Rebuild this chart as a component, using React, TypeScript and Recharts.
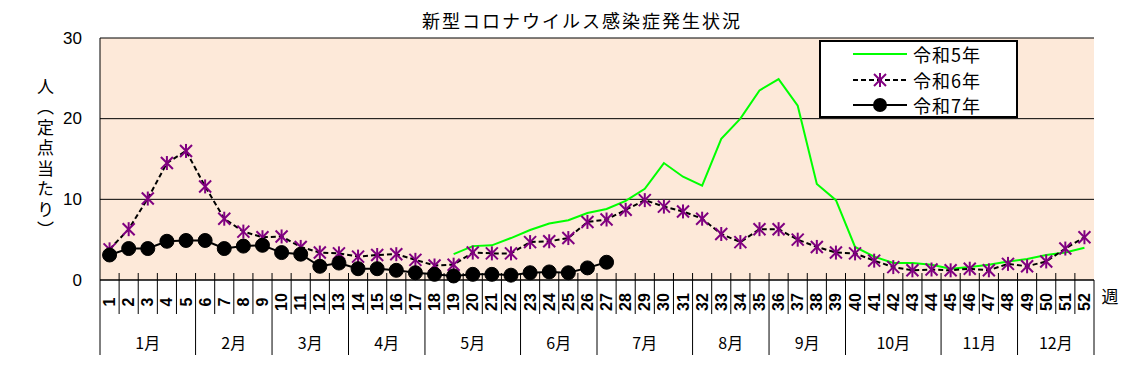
import { LineChart, Line, XAxis, YAxis, CartesianGrid, Customized } from 'recharts';

const weeks = [
  1, 2, 3, 4, 5, 6, 7, 8, 9, 10, 11, 12, 13, 14, 15, 16, 17, 18, 19, 20, 21, 22, 23, 24, 25, 26,
  27, 28, 29, 30, 31, 32, 33, 34, 35, 36, 37, 38, 39, 40, 41, 42, 43, 44, 45, 46, 47, 48, 49, 50, 51, 52,
];

// 令和5年 (data starts at week 19)
const r5 = [
  null, null, null, null, null, null, null, null, null, null, null, null, null, null, null, null, null, null,
  3.2, 4.2, 4.3, 5.2, 6.2, 7.0, 7.4, 8.3, 8.8, 9.8, 11.3, 14.5, 12.8, 11.7, 17.5, 20.0, 23.5, 24.9, 21.6,
  11.9, 9.9, 4.1, 2.9, 2.1, 2.1, 1.9, 1.4, 1.6, 1.9, 2.3, 2.6, 3.1, 3.4, 4.0,
];

// 令和6年
const r6 = [
  3.8, 6.3, 10.1, 14.5, 16.0, 11.6, 7.6, 6.0, 5.3, 5.4, 4.1, 3.4, 3.3, 2.9, 3.1, 3.2, 2.5, 1.8,
  1.9, 3.4, 3.3, 3.3, 4.7, 4.8, 5.2, 7.2, 7.5, 8.7, 9.9, 9.1, 8.5, 7.6, 5.7, 4.7, 6.3, 6.3, 5.0,
  4.1, 3.4, 3.3, 2.4, 1.6, 1.2, 1.3, 1.2, 1.4, 1.2, 2.0, 1.7, 2.3, 3.9, 5.3,
];

// 令和7年 (through week 27)
const r7 = [
  3.1, 3.9, 3.9, 4.8, 4.9, 4.9, 3.9, 4.2, 4.3, 3.4, 3.2, 1.7, 2.1, 1.4, 1.4, 1.2, 0.9, 0.7,
  0.5, 0.7, 0.7, 0.6, 0.9, 1.0, 0.9, 1.5, 2.2,
];

const monthLabels = ['1月', '2月', '3月', '4月', '5月', '6月', '7月', '8月', '9月', '10月', '11月', '12月'];
const monthWeeks = [5, 4, 4, 4, 5, 4, 5, 4, 4, 5, 4, 4];

const yTicks = [0, 10, 20, 30];

const seriesNames = ['令和5年', '令和6年', '令和7年'];

const data = weeks.map((w, i) => ({
  week: w,
  r5: r5[i] ?? null,
  r6: r6[i] ?? null,
  r7: r7[i] ?? null,
}));

const W = 1141;
const H = 391;
const PLOT_L = 100;
const PLOT_R = 1094;
const PLOT_T = 38;
const PLOT_B = 280;
const BW = (PLOT_R - PLOT_L) / weeks.length;

const JP = '"Noto Sans CJK JP", sans-serif';
const GREEN = '#00ff00';
const PURPLE = '#800080';

const monthStarts: number[] = [];
monthWeeks.reduce((acc, n) => {
  monthStarts.push(acc);
  return acc + n;
}, 0);

function WeekTick(props: any) {
  const { x, payload } = props;
  const i = weeks.indexOf(payload.value);
  const left = x - BW / 2;
  const m = monthStarts.indexOf(i);
  return (
    <g>
      {m >= 0 ? (
        <>
          <line x1={left} x2={left} y1={i === 0 ? PLOT_B : PLOT_B - 7} y2={355} stroke="#000" />
          <text
            x={left + (monthWeeks[m] * BW) / 2}
            y={342}
            textAnchor="middle"
            dominantBaseline="central"
            fontFamily={JP}
            fontSize={16}
            fill="#000"
          >
            {monthLabels[m]}
          </text>
        </>
      ) : (
        <line x1={left} x2={left} y1={PLOT_B - 7} y2={314} stroke="#000" />
      )}
      {i === weeks.length - 1 && <line x1={x + BW / 2} x2={x + BW / 2} y1={PLOT_B} y2={355} stroke="#000" />}
      <text
        x={x}
        y={302}
        transform={`rotate(-90 ${x} 302)`}
        textAnchor="middle"
        dominantBaseline="central"
        fontFamily="Liberation Sans, Arial, sans-serif"
        fontWeight="bold"
        fontSize={16}
        fill="#000"
      >
        {payload.value}
      </text>
    </g>
  );
}

function ValueTick(props: any) {
  const { y, payload } = props;
  return (
    <text x={82} y={y} textAnchor="end" dominantBaseline="central" fontFamily="Liberation Sans, Arial, sans-serif" fontSize={17} fill="#000">
      {payload.value}
    </text>
  );
}

function StarDot(props: any) {
  const { cx, cy, value } = props;
  if (cx == null || cy == null || value == null) return <g />;
  const s = 7;
  const d = 6;
  return (
    <g stroke={PURPLE} strokeWidth={2}>
      <line x1={cx} y1={cy - s} x2={cx} y2={cy + s} />
      <line x1={cx - d} y1={cy - d} x2={cx + d} y2={cy + d} />
      <line x1={cx - d} y1={cy + d} x2={cx + d} y2={cy - d} />
    </g>
  );
}

function Extras() {
  const rows = [54, 80, 105];
  return (
    <g>
      <text x={582} y={20} textAnchor="middle" dominantBaseline="central" fontFamily={JP} fontSize={18} letterSpacing={2} fill="#000">
        新型コロナウイルス感染症発生状況
      </text>
      <text x={1110} y={295} textAnchor="middle" dominantBaseline="central" fontFamily={JP} fontSize={17} fill="#000">
        週
      </text>
      <rect x={820} y={41} width={197} height={76} fill="#fff" stroke="#000" strokeWidth={2} />
      <line x1={853} x2={907} y1={rows[0]} y2={rows[0]} stroke={GREEN} strokeWidth={2} />
      <line x1={853} x2={907} y1={rows[1]} y2={rows[1]} stroke="#000" strokeWidth={2} strokeDasharray="5 3" />
      <StarDot cx={880} cy={rows[1]} value={1} />
      <line x1={853} x2={907} y1={rows[2]} y2={rows[2]} stroke="#000" strokeWidth={2} />
      <circle cx={880} cy={rows[2]} r={7} fill="#000" />
      {seriesNames.map((n, i) => (
        <text key={n} x={913} y={rows[i]} dominantBaseline="central" fontFamily={JP} fontSize={18} letterSpacing={1} fill="#000">
          {n}
        </text>
      ))}
    </g>
  );
}

export default function App() {
  return (
    <div style={{ position: 'absolute', left: 0, top: 0, width: W, height: H, background: '#fff' }}>
      <LineChart width={W} height={H} data={data} margin={{ top: PLOT_T, right: W - PLOT_R, bottom: 31, left: 40 }}>
        <CartesianGrid vertical={false} stroke="#000" fill="#fde9d9" fillOpacity={1} />
        <XAxis
          dataKey="week"
          scale="band"
          interval={0}
          height={80}
          tickLine={false}
          axisLine={{ stroke: '#000' }}
          tick={<WeekTick />}
        />
        <YAxis
          domain={[0, 30]}
          ticks={yTicks}
          width={60}
          tickLine={false}
          axisLine={{ stroke: '#000' }}
          tick={<ValueTick />}
        />
        <YAxis yAxisId="r" orientation="right" width={0} domain={[0, 30]} tick={false} tickLine={false} axisLine={{ stroke: '#000' }} />
        <Line
          dataKey="r5"
          name={seriesNames[0]}
          stroke={GREEN}
          strokeWidth={2}
          dot={false}
          activeDot={false}
          isAnimationActive={false}
        />
        <Line
          dataKey="r6"
          name={seriesNames[1]}
          stroke="#000"
          strokeWidth={2}
          strokeDasharray="5 3"
          dot={<StarDot />}
          activeDot={false}
          isAnimationActive={false}
        />
        <Line
          dataKey="r7"
          name={seriesNames[2]}
          stroke="#000"
          strokeWidth={2}
          dot={{ r: 7, fill: '#000', stroke: '#000', strokeWidth: 1 }}
          activeDot={false}
          isAnimationActive={false}
        />
        <Customized component={<Extras />} />
      </LineChart>
      <div
        style={{
          position: 'absolute',
          left: 36,
          top: 78,
          height: 166,
          writingMode: 'vertical-rl',
          textOrientation: 'upright',
          fontFamily: JP,
          fontSize: 17,
          lineHeight: '18px',
          letterSpacing: 3.5,
          color: '#000',
        }}
      >
        人（定点当たり）
      </div>
    </div>
  );
}
